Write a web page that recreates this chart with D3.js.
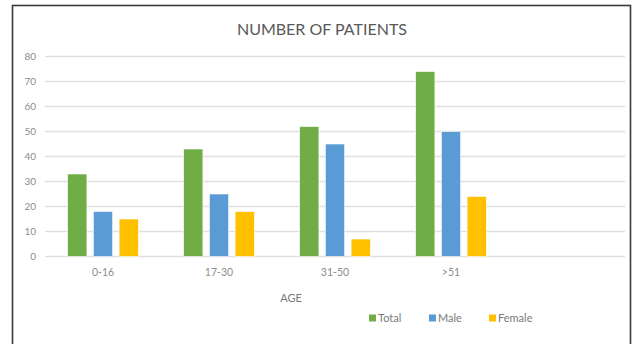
<!DOCTYPE html>
<html>
<head>
<meta charset="utf-8">
<script src="https://cdn.jsdelivr.net/npm/d3@7"></script>
<style>
  body { margin: 0; background: #fff; }
  svg { display: block; font-family: Lato, "Open Sans", sans-serif; }
</style>
</head>
<body>
<svg id="chart"></svg>
<script>
// data
const categories = ["0-16", "17-30", "31-50", ">51", ""];   // last slot is empty in the source
const seriesNames = ["Total", "Male", "Female"];
const totalValues = [33, 43, 52, 74];
const maleValues = [18, 25, 45, 50];
const femaleValues = [15, 18, 7, 24];
const yTicks = [0, 10, 20, 30, 40, 50, 60, 70, 80];
const colors = ["#70ad47", "#5b9bd5", "#ffc000"];

const width = 633, height = 344;
const svg = d3.select("#chart").attr("width", width).attr("height", height);

// frame
svg.append("rect")
    .attr("x", 12.5).attr("y", 5.5)
    .attr("width", 618).attr("height", 345)
    .attr("fill", "#fff").attr("stroke", "#3a3a3a").attr("stroke-width", 1.6);

const x0 = d3.scaleBand().domain(categories).range([45, 625])
    .paddingInner(0.39).paddingOuter(0.195);
const x1 = d3.scaleBand().domain(seriesNames).range([0, x0.bandwidth()]).paddingInner(0.25);
const y = d3.scaleLinear().domain([0, 80]).range([256.5, 56.5]);

// gridlines
svg.append("g")
    .selectAll("line")
    .data(yTicks)
    .join("line")
    .attr("x1", 45).attr("x2", 625)
    .attr("y1", d => y(d)).attr("y2", d => y(d))
    .attr("stroke", "#e0e0e0").attr("stroke-width", 1.4);

// y labels
svg.append("g")
    .selectAll("text")
    .data(yTicks)
    .join("text")
    .attr("x", 36).attr("y", d => y(d))
    .attr("dy", "0.35em")
    .attr("text-anchor", "end")
    .attr("font-size", 10)
    .attr("fill", "#8c8c8c")
    .text(d => d);

// bars
const series = [totalValues, maleValues, femaleValues];
const rows = [];
categories.forEach((c, i) => {
    series.forEach((vals, s) => {
        if (vals[i] != null) rows.push({ cat: c, name: seriesNames[s], value: vals[i], color: colors[s] });
    });
});

svg.append("g")
    .selectAll("rect")
    .data(rows)
    .join("rect")
    .attr("x", d => x0(d.cat) + x1(d.name))
    .attr("y", d => y(d.value))
    .attr("width", x1.bandwidth())
    .attr("height", d => y(0) - y(d.value))
    .attr("fill", d => d.color)
    .attr("stroke", "#fff").attr("stroke-width", 0.6);

// x labels
svg.append("g")
    .selectAll("text")
    .data(categories)
    .join("text")
    .attr("x", d => x0(d) + x0.bandwidth() / 2)
    .attr("y", 276)
    .attr("text-anchor", "middle")
    .attr("font-size", 10.5)
    .attr("fill", "#8c8c8c")
    .text(d => d);

// axis title
svg.append("text")
    .attr("x", 291).attr("y", 302)
    .attr("text-anchor", "middle")
    .attr("font-size", 11)
    .attr("fill", "#7a7a7a")
    .text("AGE");

// chart title
svg.append("text")
    .attr("x", 322).attr("y", 35)
    .attr("text-anchor", "middle")
    .attr("font-size", 16)
    .attr("fill", "#595959")
    .text("NUMBER OF PATIENTS");

// legend
const legendX = [369, 429, 489];
const legend = svg.append("g")
    .selectAll("g")
    .data(seriesNames)
    .join("g")
    .attr("transform", (d, i) => `translate(${legendX[i]},318)`);

legend.append("rect")
    .attr("x", 0).attr("y", -3.5)
    .attr("width", 7).attr("height", 7)
    .attr("fill", (d, i) => colors[i]);

legend.append("text")
    .attr("x", 9).attr("dy", "0.35em")
    .attr("font-size", 11)
    .attr("fill", "#7a7a7a")
    .text(d => d);
</script>
</body>
</html>
